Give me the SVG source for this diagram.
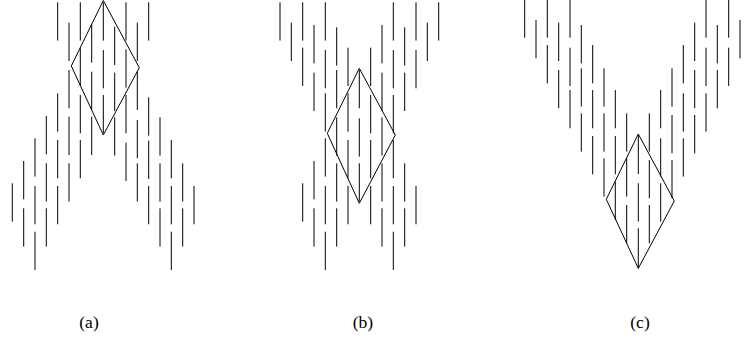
<svg xmlns="http://www.w3.org/2000/svg" width="748" height="343" viewBox="0 0 748 343">
<style>
.seg{fill:none;stroke:#000;stroke-width:1}
.dia{fill:none;stroke:#000;stroke-width:1;stroke-linejoin:miter}
.lbl{font-family:"Liberation Serif","DejaVu Serif",serif;font-size:17.5px;fill:#000;text-anchor:middle}
</style>
<rect width="748" height="343" fill="#fff"/>
<g id="panel-a">
<path class="seg" d="M12.3 183.3v38.3
M23.7 161v38.3M23.7 208.3v38.3
M35 138.3v38.3M35 186v38.3M35 231.7v38.3
M46.3 116v38.3M46.3 163.3v38.3M46.3 208.3v38.3
M57.7 2.3v38.3M57.7 93.3v38.3M57.7 140v38.3M57.7 186v38.3
M69 22.7v38.3M69 70v38.3M69 116.7v38.3M69 163.3v38.3
M80.3 2.3v38.3M80.3 47.7v38.3M80.3 95v38.3M80.3 140v38.3
M91.7 24.3v38.3M91.7 71.7v38.3M91.7 116.7v38.3
M103.3 2.3v38.3M103.3 50v38.3M103.3 95v38.3
M114.7 26.7v38.3M114.7 72.7v38.3M114.7 117.3v38.3
M126 2.3v38.3M126 49.3v38.3M126 95v38.3M126 142.7v38.3
M137.3 22.7v38.3M137.3 71.7v38.3M137.3 120v38.3M137.3 163.3v38.3
M148.7 2.3v38.3M148.7 97.3v38.3M148.7 140.7v38.3M148.7 186v38.3
M160 117.3v38.3M160 163.3v38.3M160 208.3v38.3
M171.3 140v38.3M171.3 186v38.3M171.3 231.7v38.3
M182.7 163.3v38.3M182.7 208.3v38.3
M194 186v38.3"/>
<polygon class="dia" points="103.3,0.5 139.3,67.7 103.3,135 71.3,66"/>
<text class="lbl" x="89" y="328">(a)</text>
</g>
<g id="panel-b">
<path class="seg" d="M280 2.3v38.3
M291.3 22.7v38.3
M302.7 2.3v38.3M302.7 47.7v38.3M302.7 183.3v38.3
M314 25v38.3M314 72.7v38.3M314 161v38.3M314 208.3v38.3
M325.3 2.3v38.3M325.3 50v38.3M325.3 93.3v38.3M325.3 138.3v38.3M325.3 186v38.3M325.3 231.7v38.3
M336.7 27.3v38.3M336.7 70v38.3M336.7 117.3v38.3M336.7 163.3v38.3M336.7 208.3v38.3
M348 47.7v38.3M348 93.3v38.3M348 140v38.3M348 186v38.3
M359.3 70v38.3M359.3 118.3v38.3M359.3 163.3v38.3
M370.7 47.7v38.3M370.7 95v38.3M370.7 140v38.3M370.7 186v38.3
M382 25v38.3M382 72.7v38.3M382 117.3v38.3M382 163.3v38.3M382 208.3v38.3
M393.3 2.3v38.3M393.3 50v38.3M393.3 95v38.3M393.3 140v38.3M393.3 186v38.3M393.3 231.7v38.3
M404.7 27.3v38.3M404.7 72.7v38.3M404.7 163.3v38.3M404.7 208.3v38.3
M416 2.3v38.3M416 50v38.3M416 186v38.3
M427.3 22.7v38.3
M438.7 2.3v38.3"/>
<polygon class="dia" points="359.3,68.3 395.3,135 359.3,203.3 327.3,133.3"/>
<text class="lbl" x="363" y="328">(b)</text>
</g>
<g id="panel-c">
<path class="seg" d="M524.7 0v37.7
M536 20v38.3
M547.3 0v37.7M547.3 45v38.3
M558.7 22.7v38.3M558.7 70v38.3
M570 0v37.7M570 47.7v38.3M570 90v38.3
M581.3 25v38.3M581.3 68.3v38.3M581.3 113.3v38.3
M592.7 45v38.3M592.7 90v38.3M592.7 136v38.3
M604 68.3v38.3M604 113.3v38.3M604 158.3v38.3
M615.3 90v38.3M615.3 136v38.3M615.3 181.7v38.3
M626.7 113.3v38.3M626.7 158.3v38.3M626.7 205v38.3
M638.3 134v40M638.3 183.3v38.3M638.3 228.3v40
M649.3 113.3v38.3M649.3 160v38.3M649.3 205v38.3
M660.7 90v38.3M660.7 138.3v38.3M660.7 183.3v38.3
M672 68.3v38.3M672 115v38.3M672 160v38.3
M683.3 45v38.3M683.3 93.3v38.3M683.3 138.3v38.3
M694.7 22.7v38.3M694.7 70v38.3M694.7 115v38.3
M706 0v37.7M706 47.7v38.3M706 93.3v38.3
M717.3 25v38.3M717.3 70v38.3
M728.7 0v37.7M728.7 47.7v38.3
M740 20v38.3"/>
<polygon class="dia" points="638.3,134 674.3,201 638.3,268.3 606.3,199.3"/>
<text class="lbl" x="640" y="328">(c)</text>
</g>
</svg>
